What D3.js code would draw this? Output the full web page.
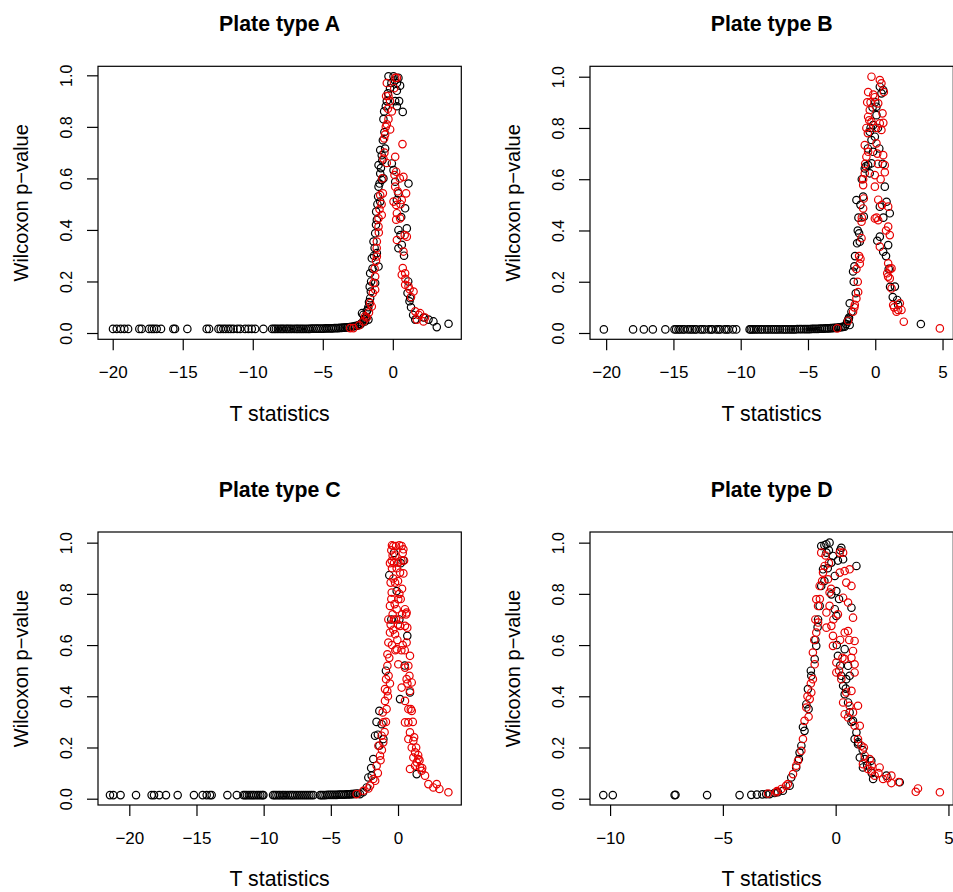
<!DOCTYPE html>
<html>
<head>
<meta charset="utf-8">
<script src="https://cdn.jsdelivr.net/npm/d3@7"></script>
<style>
  body { margin: 0; background: #fff; }
  svg { display: block; font-family: "Liberation Sans", Arial, Helvetica, sans-serif; }
</style>
</head>
<body>
<script>
// values: [T statistic, Wilcoxon p-value]
const titles = ['Plate type A', 'Plate type B', 'Plate type C', 'Plate type D'];
const xTicks = [[-20, -15, -10, -5, 0], [-20, -15, -10, -5, 0, 5], [-20, -15, -10, -5, 0], [-10, -5, 0, 5]];
const yTicks = [0, 0.2, 0.4, 0.6, 0.8, 1.0];
const xDomains = [[-21.05, 4.89], [-21.2, 5.8], [-22.33, 4.71], [-10.89, 5.215]];
const yDomains = [[-0.0244, 1.035], [-0.0246, 1.0406], [-0.0246, 1.0416], [-0.0246, 1.0416]];

const plateABlack = [
  [-19.98,0.016],[-19.71,0.016],[-19.43,0.016],[-19.17,0.016],[-18.9,0.016],[-18.1,0.016],[-17.93,0.016],
  [-17.4,0.016],[-17.21,0.016],[-17.05,0.016],[-16.86,0.016],[-16.55,0.016],[-15.67,0.016],[-15.55,0.016],
  [-14.67,0.016],[-13.29,0.016],[-13.12,0.016],[-12.45,0.016],[-12.29,0.016],[-12.1,0.016],[-11.93,0.016],
  [-11.74,0.016],[-11.57,0.016],[-11.38,0.016],[-11.1,0.016],[-10.9,0.016],[-10.55,0.016],[-10.31,0.016],
  [-10.07,0.016],[-9.83,0.016],[-9.24,0.016],
  [-8.62,0.016],[-8.48,0.016],[-8.35,0.016],[-8.2,0.016],[-8.04,0.016],[-7.91,0.016],[-7.78,0.016],
  [-7.62,0.016],[-7.5,0.016],[-7.36,0.016],[-7.22,0.016],[-7.05,0.016],[-6.9,0.016],[-6.78,0.016],
  [-6.64,0.016],[-6.5,0.016],[-6.36,0.016],[-6.2,0.016],[-6.05,0.016],[-5.93,0.016],[-5.8,0.017],
  [-5.66,0.017],[-5.5,0.017],[-5.38,0.017],[-5.24,0.017],[-5.1,0.017],[-4.96,0.017],[-4.82,0.018],
  [-4.7,0.018],[-4.56,0.018],[-4.42,0.018],[-4.3,0.018],[-4.16,0.019],[-4.03,0.019],[-3.9,0.019],
  [-3.78,0.02],[-3.66,0.02],[-3.55,0.021],[-3.44,0.021],[-3.32,0.022],[-3.2,0.022],[-3.08,0.023],
  [-2.95,0.024],[-2.82,0.025],[-2.7,0.027],[-2.57,0.028],
  [-2.46,0.03],[-2.33,0.032],[-2.2,0.04],[-2.2,0.077],[-2.1,0.071],[-2.05,0.055],[-1.98,0.045],
  [-1.86,0.084],[-1.74,0.052],[-1.75,0.1],[-1.62,0.135],[-1.57,0.161],[-1.62,0.232],[-1.55,0.2],
  [-1.5,0.29],[-1.38,0.355],[-1.26,0.387],[-1.26,0.194],[-1.19,0.471],[-1.14,0.439],[-1.14,0.31],
  [-1.02,0.258],[-1.02,0.568],[-1.02,0.652],[-0.9,0.51],[-0.9,0.619],[-0.9,0.71],[-0.79,0.69],
  [-0.79,0.594],[-0.71,0.748],[-0.67,0.6],[-0.67,0.83],[-0.62,0.86],[-0.55,0.716],[-0.43,0.9],
  [-0.31,0.996],[-0.2,0.95],
  [0.05,0.996],[0.17,0.9],[0.29,0.94],[0.29,0.88],[0.4,0.99],[0.52,0.96],[0.71,0.858],[0.05,0.632],
  [-0.07,0.658],[0.17,0.587],[0.4,0.542],[0.29,0.516],[1.12,0.58],[0.88,0.484],[1.0,0.406],[0.4,0.4],
  [0.64,0.342],[0.4,0.329],[1.19,0.123],[1.05,0.155],[1.24,0.135],[1.6,0.052],[2.55,0.052],
  [2.9,0.045],[3.14,0.023],[3.98,0.036],
  [-1.45,0.25],[-1.35,0.3],[-1.3,0.33],[-1.2,0.42],[-1.1,0.5],[-1.05,0.53],[-0.95,0.58],[-0.85,0.64],
  [-0.75,0.67],[-0.6,0.78],[-0.5,0.88],[-0.35,0.93],[-0.1,0.97],[0.15,0.98],[0.3,0.97],[-1.7,0.12],
  [-1.8,0.09],[-1.9,0.06],[-2.3,0.035],[-1.65,0.18],[0.45,0.9],[0.6,0.45],[0.55,0.38],[0.8,0.3],
  [1.1,0.2],[1.3,0.1],[1.45,0.07],[2.2,0.06]
];
const plateARed = [
  [-0.43,0.97],[0.17,0.99],[0.29,0.99],[-0.31,0.92],[-0.48,0.92],[-0.07,0.86],[-0.31,0.83],[-0.43,0.81],
  [-0.19,0.79],[-0.55,0.77],[-0.62,0.755],[0.69,0.733],[0.17,0.684],[-0.67,0.677],[-0.43,0.66],
  [0.24,0.626],[0.12,0.613],[0.76,0.606],[0.17,0.568],[-0.71,0.542],[-0.9,0.535],[0.95,0.542],
  [0.05,0.51],[0.24,0.497],[0.64,0.516],[0.29,0.465],[-0.79,0.458],[-1.02,0.445],[0.52,0.445],
  [0.24,0.44],[-1.02,0.413],[1.0,0.374],[0.29,0.361],[-1.14,0.355],[0.76,0.316],[-1.14,0.297],
  [0.71,0.252],[0.64,0.226],[0.88,0.232],[-1.26,0.219],[-1.38,0.194],[0.88,0.187],[1.12,0.181],
  [-1.26,0.168],[1.48,0.161],[-1.43,0.155],[-1.62,0.116],[-1.5,0.103],[1.6,0.084],[1.95,0.077],
  [-1.98,0.065],[1.71,0.052],[2.19,0.045],[-2.1,0.045],[-2.81,0.019],[-3.05,0.019],
  [-1.3,0.25],[-1.2,0.28],[-1.15,0.33],[-1.0,0.39],[-0.95,0.48],[-0.8,0.5],[-0.75,0.6],[-0.6,0.7],
  [-0.5,0.8],[-0.35,0.87],[-0.2,0.9],[0.1,0.95],[0.35,0.55],[0.5,0.6],[0.55,0.5],[0.85,0.38],
  [0.9,0.21],[1.2,0.17],[1.3,0.14],[1.85,0.07],[2.3,0.06],[-1.7,0.08],[-1.85,0.06],[-2.4,0.03]
];

const plateBBlack = [
  [-20.17,0.014],[-18.0,0.014],[-17.2,0.014],[-16.53,0.014],[-15.6,0.014],[-14.92,0.014],[-14.8,0.014],
  [-14.62,0.014],[-14.5,0.014],[-14.3,0.014],[-14.18,0.014],[-13.93,0.014],[-13.75,0.014],[-13.6,0.014],
  [-13.42,0.014],[-13.3,0.014],[-13.0,0.014],[-12.85,0.014],[-12.68,0.014],[-12.38,0.014],[-12.2,0.014],
  [-12.11,0.014],[-11.82,0.014],[-11.65,0.014],[-11.52,0.014],[-11.2,0.014],[-11.05,0.014],[-10.9,0.014],
  [-10.58,0.014],[-10.33,0.014],
  [-9.34,0.014],[-9.25,0.014],[-9.12,0.014],[-9.0,0.014],[-8.85,0.014],[-8.7,0.014],[-8.52,0.014],
  [-8.4,0.014],[-8.22,0.014],[-8.05,0.014],[-7.9,0.014],[-7.72,0.014],[-7.56,0.014],[-7.4,0.014],
  [-7.25,0.014],[-7.08,0.014],[-6.9,0.014],[-6.74,0.014],[-6.6,0.014],[-6.42,0.014],[-6.26,0.014],
  [-6.1,0.014],[-5.95,0.014],[-5.8,0.015],[-5.62,0.015],[-5.48,0.015],[-5.3,0.015],[-5.15,0.015],
  [-5.0,0.015],[-4.85,0.015],[-4.7,0.016],[-4.55,0.016],[-4.4,0.016],[-4.25,0.016],[-4.1,0.017],
  [-3.96,0.017],[-3.82,0.017],[-3.7,0.018],[-3.56,0.018],[-3.44,0.018],[-3.3,0.019],[-3.18,0.019],
  [-3.05,0.02],[-2.92,0.02],[-2.78,0.021],[-2.66,0.022],[-2.52,0.023],[-2.4,0.024],
  [-2.27,0.025],[-2.15,0.035],[-2.08,0.045],[-2.02,0.05],[-1.98,0.055],[-1.95,0.06],[-1.9,0.031],
  [-1.9,0.116],[-1.77,0.083],[-1.65,0.24],[-1.45,0.155],[-1.4,0.519],[-1.2,0.389],[-1.15,0.356],
  [-0.9,0.532],[-0.85,0.454],[-0.78,0.642],[-0.53,0.655],[-0.41,0.623],[-0.28,0.662],[-0.16,0.707],
  [-0.28,0.753],[-0.41,0.785],[-0.16,0.811],[0.09,0.883],[0.34,0.961],[0.59,0.948],[0.46,0.935],
  [-0.03,0.766],[0.09,0.85],[0.34,0.493],[0.34,0.376],[0.59,0.317],[0.96,0.343],[0.71,0.571],
  [0.84,0.512],[1.08,0.467],[1.46,0.181],[1.63,0.129],[3.39,0.035],
  [-1.6,0.2],[-1.55,0.26],[-1.5,0.3],[-1.35,0.35],[-1.3,0.4],[-1.25,0.45],[-1.1,0.5],[-1.0,0.6],
  [-0.7,0.65],[-0.55,0.72],[-0.35,0.8],[-0.2,0.88],[0.0,0.9],[0.2,0.8],[0.3,0.72],[0.55,0.66],
  [0.6,0.45],[0.8,0.3],[1.0,0.25],[1.1,0.18],[1.3,0.14],[1.7,0.11],[0.15,0.36]
];
const plateBRed = [
  [-2.82,0.018],[-2.02,0.048],[-1.65,0.083],[-1.52,0.11],[-1.4,0.135],[-1.27,0.16],[-1.4,0.25],
  [-1.2,0.3],[-1.15,0.27],[-1.02,0.37],[-1.02,0.434],[-0.9,0.486],[-0.85,0.525],[-0.9,0.577],
  [-0.78,0.623],[-0.66,0.688],[-0.78,0.733],[-0.53,0.707],[-0.66,0.8],[-0.53,0.844],[-0.6,0.9],
  [-0.41,0.87],[-0.28,0.824],[-0.28,1.0],[-0.53,0.94],[-0.03,0.92],[0.34,0.987],[0.46,0.974],
  [0.64,0.94],[0.22,0.896],[0.54,0.857],[0.34,0.818],[0.46,0.792],[0.09,0.74],[0.59,0.694],
  [0.71,0.655],[0.71,0.627],[-0.03,0.616],[-0.03,0.571],[0.22,0.52],[0.96,0.493],[-0.03,0.447],
  [0.22,0.44],[0.96,0.415],[1.08,0.382],[0.34,0.337],[0.96,0.272],[1.21,0.252],[0.89,0.233],
  [1.08,0.213],[1.21,0.174],[1.33,0.109],[1.58,0.083],[1.83,0.116],[1.95,0.09],[2.12,0.044],
  [4.8,0.018],
  [-1.55,0.1],[-1.3,0.2],[-1.1,0.29],[-1.0,0.45],[-0.9,0.6],[-0.75,0.66],[-0.55,0.78],[-0.45,0.83],
  [-0.35,0.9],[-0.15,0.93],[0.05,0.8],[0.15,0.7],[0.4,0.6],[0.5,0.5],[0.6,0.82],[0.8,0.4],
  [0.95,0.22],[1.1,0.25],[1.4,0.1],[1.7,0.09],[0.1,0.45],[0.2,0.66]
];

const plateCBlack = [
  [-21.44,0.014],[-21.19,0.014],[-20.65,0.014],[-19.5,0.014],[-18.34,0.014],[-18.16,0.014],[-17.77,0.014],
  [-17.27,0.014],[-16.4,0.014],[-15.19,0.014],[-14.54,0.014],[-14.24,0.014],[-14.0,0.014],[-13.87,0.014],
  [-12.7,0.014],[-12.0,0.014],[-11.5,0.014],[-11.38,0.014],[-11.25,0.014],[-11.1,0.014],[-10.96,0.014],
  [-10.82,0.014],[-10.7,0.014],[-10.55,0.014],[-10.4,0.014],[-10.25,0.014],[-10.1,0.014],[-10.02,0.014],
  [-9.3,0.014],[-9.18,0.014],[-9.05,0.014],[-8.9,0.014],[-8.78,0.014],[-8.62,0.014],[-8.5,0.014],
  [-8.36,0.014],[-8.2,0.014],[-8.05,0.014],[-7.92,0.014],[-7.8,0.014],[-7.65,0.014],[-7.5,0.014],
  [-7.35,0.014],[-7.2,0.014],[-7.05,0.014],[-6.9,0.014],[-6.75,0.014],[-6.6,0.014],[-6.45,0.014],
  [-6.3,0.014],[-5.8,0.014],[-5.68,0.014],[-5.55,0.014],[-5.4,0.014],[-5.25,0.015],[-5.1,0.015],
  [-4.96,0.015],[-4.82,0.015],[-4.68,0.015],[-4.55,0.015],[-4.4,0.016],[-4.26,0.016],[-4.12,0.016],
  [-3.98,0.016],[-3.85,0.017],[-3.72,0.017],[-3.6,0.017],[-3.48,0.018],[-3.36,0.018],[-3.24,0.019],
  [-3.12,0.019],[-3.0,0.02],
  [-2.83,0.018],[-2.6,0.025],[-2.33,0.044],[-2.21,0.083],[-1.96,0.09],[-1.84,0.155],[-1.71,0.246],
  [-1.39,0.343],[-1.22,0.291],[-1.09,0.233],[-1.39,0.207],[-0.65,0.873],[-0.1,0.811],[0.1,0.7],
  [0.69,0.636],[0.89,0.415],[0.15,0.389],[1.39,0.096],[-0.3,0.96],[0.2,0.92],
  [-2.0,0.12],[-1.6,0.3],[-1.5,0.25],[-0.9,0.5],[-0.5,0.7],[0.4,0.93],[0.5,0.52]
];
const plateCRed = [
  [-3.08,0.018],[-2.58,0.031],[-2.08,0.051],[-1.84,0.077],[-1.59,0.129],[-1.34,0.168],[-1.46,0.207],
  [-1.22,0.246],[-1.09,0.298],[-1.14,0.337],[-0.97,0.382],[-0.97,0.428],[-0.89,0.467],[-0.79,0.519],
  [-0.79,0.564],[-0.72,0.61],[-0.6,0.649],[-0.72,0.7],[-0.6,0.753],[-0.47,0.805],[-0.55,0.844],
  [-0.47,0.929],[-0.35,0.987],[-0.15,0.987],[0.27,0.987],[0.4,0.974],[0.02,0.922],[0.15,0.883],
  [-0.22,0.844],[0.02,0.779],[-0.1,0.74],[0.52,0.74],[0.64,0.727],[0.15,0.675],[0.52,0.675],
  [0.69,0.668],[-0.22,0.642],[-0.1,0.584],[0.64,0.61],[0.89,0.558],[0.02,0.525],[0.52,0.512],
  [0.77,0.519],[0.64,0.467],[1.02,0.454],[0.27,0.434],[0.89,0.421],[0.52,0.382],[0.77,0.35],
  [1.02,0.343],[0.52,0.298],[0.77,0.298],[0.89,0.259],[0.77,0.233],[1.14,0.226],[1.02,0.2],
  [1.27,0.181],[1.14,0.161],[1.39,0.142],[1.27,0.129],[1.64,0.122],[1.76,0.109],[2.01,0.09],
  [2.26,0.057],[2.63,0.044],[2.88,0.057],[3.08,0.038],[3.75,0.025],[0.89,0.116],[1.51,0.155],
  [-0.4,0.95],[-0.45,0.9],[-0.3,0.92],[-0.35,0.86],[-0.5,0.78],[-0.4,0.72],[-0.55,0.68],[-0.45,0.6],
  [-0.65,0.55],[-0.7,0.48],[-0.6,0.45],[-0.75,0.4],[-0.85,0.35],[-0.9,0.3],[-1.0,0.26],[-1.1,0.22],
  [-1.2,0.19],[-0.2,0.95],[-0.1,0.9],[0.0,0.85],[0.1,0.8],[-0.25,0.76],[-0.15,0.7],[0.25,0.93],
  [0.35,0.96],[0.2,0.78],[0.3,0.72],[-0.05,0.62],[0.35,0.6],
  [-0.5,0.97],[-0.45,0.99],[-0.6,0.92],[0.1,0.99],[0.45,0.93],[0.6,0.72],[0.3,0.82],[0.4,0.88],
  [-0.3,0.7],[-0.35,0.66],[-0.2,0.58],[0.0,0.68],[0.25,0.58],[0.5,0.58],[0.7,0.45],[0.85,0.48],
  [0.95,0.35],[1.1,0.3],[1.2,0.24],[1.35,0.2],[1.5,0.17],[1.6,0.15],[1.8,0.12],[-0.8,0.42],
  [-1.3,0.15],[-1.5,0.1],[-1.7,0.07],[-2.2,0.04]
];

const plateDBlack = [
  [-10.3,0.014],[-9.88,0.014],[-7.14,0.014],[-7.1,0.015],[-5.7,0.014],[-4.26,0.014],[-3.74,0.015],
  [-3.49,0.016],[-3.25,0.017],[-3.08,0.018],[-2.93,0.018],[-2.71,0.022],[-2.56,0.025],
  [-2.34,0.031],[-2.04,0.051],[-1.97,0.083],[-1.75,0.122],[-1.63,0.155],[-1.52,0.207],[-1.38,0.265],
  [-1.3,0.369],[-1.23,0.428],[-1.08,0.48],[-0.93,0.545],[-0.86,0.597],[-0.78,0.7],[-0.71,0.753],
  [-0.64,0.831],[-0.56,0.896],[-0.64,0.987],[-0.41,0.994],[-0.27,1.0],[-0.41,0.961],[-0.12,0.948],
  [-0.19,0.922],[-0.04,0.87],[0.03,0.811],[-0.19,0.798],[-0.04,0.74],[0.03,0.714],[0.25,0.98],
  [0.33,0.935],[0.1,0.558],[0.25,0.48],[0.33,0.441],[0.47,0.467],[0.4,0.408],[0.55,0.376],
  [0.62,0.337],[0.77,0.304],[0.92,0.259],[0.84,0.233],[0.99,0.213],[1.07,0.161],[1.29,0.155],
  [1.21,0.122],[1.58,0.148],[1.66,0.077],[2.25,0.09],[2.84,0.064],[0.62,0.48],[0.4,0.584],
  [0.55,0.519],[0.7,0.746],[0.92,0.909],
  [-0.9,0.62],[-0.8,0.67],[-0.5,0.85],[-0.35,0.9],[-0.3,0.97],[-0.5,0.99],[0.1,0.93],[0.2,0.97],
  [0.15,0.78],[0.05,0.6],[0.2,0.52],[0.45,0.43],[0.7,0.3],[1.0,0.22],[1.2,0.19],[1.4,0.13],
  [1.6,0.1],[-1.1,0.5],[-1.2,0.35],[-1.45,0.28],[-1.6,0.18]
];
const plateDRed = [
  [-3.0,0.02],[-2.63,0.025],[-2.41,0.038],[-2.12,0.057],[-1.89,0.096],[-1.75,0.129],[-1.67,0.148],
  [-1.52,0.187],[-1.45,0.233],[-1.38,0.304],[-1.3,0.356],[-1.15,0.389],[-1.08,0.415],[-1.01,0.467],
  [-0.93,0.525],[-1.01,0.571],[-0.86,0.649],[-0.78,0.688],[-0.86,0.779],[-0.78,0.753],[-0.71,0.831],
  [-0.56,0.883],[-0.64,0.961],[-0.49,0.909],[-0.34,0.857],[-0.27,0.805],[-0.27,0.753],[-0.41,0.727],
  [-0.19,0.675],[-0.41,0.668],[-0.12,0.636],[-0.12,0.597],[0.03,0.532],[0.03,0.493],[0.18,0.961],
  [0.33,0.961],[0.18,0.883],[0.4,0.889],[0.62,0.896],[0.47,0.844],[0.7,0.831],[0.33,0.785],
  [0.55,0.766],[0.77,0.707],[0.4,0.649],[0.55,0.655],[0.84,0.616],[0.77,0.577],[0.4,0.545],
  [0.84,0.525],[0.84,0.493],[0.25,0.467],[0.47,0.415],[0.7,0.421],[0.33,0.376],[0.62,0.363],
  [0.99,0.363],[0.4,0.33],[0.55,0.317],[0.77,0.337],[0.84,0.285],[1.07,0.285],[0.99,0.233],
  [1.14,0.207],[1.29,0.168],[1.21,0.135],[1.51,0.155],[1.43,0.116],[1.58,0.109],[1.73,0.09],
  [1.95,0.122],[2.1,0.077],[2.47,0.09],[2.47,0.061],[3.55,0.027],[3.65,0.04],[4.62,0.025],
  [-0.9,0.7],[-0.95,0.62],[-0.7,0.78],[-0.6,0.85],[-0.45,0.95],[-0.3,0.92],[-0.2,0.82],[-0.1,0.7],
  [0.1,0.72],[0.2,0.62],[0.6,0.62],[0.7,0.55],[0.15,0.5],[0.3,0.55],[1.25,0.2],[1.6,0.13],
  [1.9,0.1],[2.3,0.08],[2.8,0.065],[-1.2,0.32],[-1.25,0.4],[-1.1,0.45],[-2.2,0.05],[-2.6,0.03]
];

const blackSets = [plateABlack, plateBBlack, plateCBlack, plateDBlack];
const redSets = [plateARed, plateBRed, plateCRed, plateDRed];

const width = 953, height = 892;
const panelX = [0, 492], panelY = [0, 465.7];
const box = { left: 98, right: 461.3, top: 66.3, bottom: 339.3 };
const tickLen = 11;
const font = '"Liberation Sans", Arial, sans-serif';

const svg = d3.select('body').append('svg')
  .attr('width', width)
  .attr('height', height);
svg.append('rect').attr('width', width).attr('height', height).attr('fill', '#fff');

const fmtY = d => d.toFixed(1);
const fmtX = d => (d < 0 ? '\u2212' + Math.abs(d) : String(d));

titles.forEach((title, i) => {
  const g = svg.append('g')
    .attr('transform', `translate(${panelX[i % 2]},${panelY[Math.floor(i / 2)]})`);

  const x = d3.scaleLinear().domain(xDomains[i]).range([box.left, box.right]);
  const y = d3.scaleLinear().domain(yDomains[i]).range([box.bottom, box.top]);

  // points: black first, red drawn on top
  [[blackSets[i], '#000'], [redSets[i], '#e80000']].forEach(([pts, col]) => {
    g.append('g')
      .attr('fill', 'none')
      .attr('stroke', col)
      .attr('stroke-width', 1.2)
      .selectAll('circle')
      .data(pts)
      .join('circle')
        .attr('cx', d => x(d[0]))
        .attr('cy', d => y(d[1]))
        .attr('r', 3.7);
  });

  g.append('rect')
    .attr('x', box.left)
    .attr('y', box.top)
    .attr('width', box.right - box.left)
    .attr('height', box.bottom - box.top)
    .attr('fill', 'none')
    .attr('stroke', '#000')
    .attr('stroke-width', 1.2);

  const xAxis = g.append('g')
    .attr('transform', `translate(0,${box.bottom})`)
    .call(d3.axisBottom(x).tickValues(xTicks[i]).tickSize(tickLen).tickSizeOuter(0).tickFormat(fmtX));
  xAxis.select('.domain').remove();
  xAxis.selectAll('line').attr('stroke-width', 1.2);
  xAxis.selectAll('text')
    .attr('y', 378 - box.bottom)
    .attr('dy', null)
    .attr('fill', '#000')
    .style('font-size', '17px')
    .style('font-family', font);

  const yAxis = g.append('g')
    .attr('transform', `translate(${box.left},0)`)
    .call(d3.axisLeft(y).tickValues(yTicks).tickSize(tickLen).tickSizeOuter(0).tickFormat(fmtY));
  yAxis.select('.domain').remove();
  yAxis.selectAll('line').attr('stroke-width', 1.2);
  yAxis.selectAll('text')
    .attr('x', null)
    .attr('dy', null)
    .attr('text-anchor', 'middle')
    .attr('transform', `translate(${71.7 - box.left},0) rotate(-90)`)
    .attr('fill', '#000')
    .style('font-size', '16px')
    .style('font-family', font);

  const cx = (box.left + box.right) / 2;
  const cy = (box.top + box.bottom) / 2;

  g.append('text')
    .attr('x', cx)
    .attr('y', 31)
    .attr('text-anchor', 'middle')
    .style('font-size', '21.3px')
    .style('font-weight', 'bold')
    .text(title);

  g.append('text')
    .attr('x', cx)
    .attr('y', 420.7)
    .attr('text-anchor', 'middle')
    .style('font-size', '21.3px')
    .text('T statistics');

  g.append('text')
    .attr('transform', `translate(28,${cy}) rotate(-90)`)
    .attr('text-anchor', 'middle')
    .style('font-size', '20px')
    .text('Wilcoxon p\u2212value');
});
</script>
</body>
</html>
